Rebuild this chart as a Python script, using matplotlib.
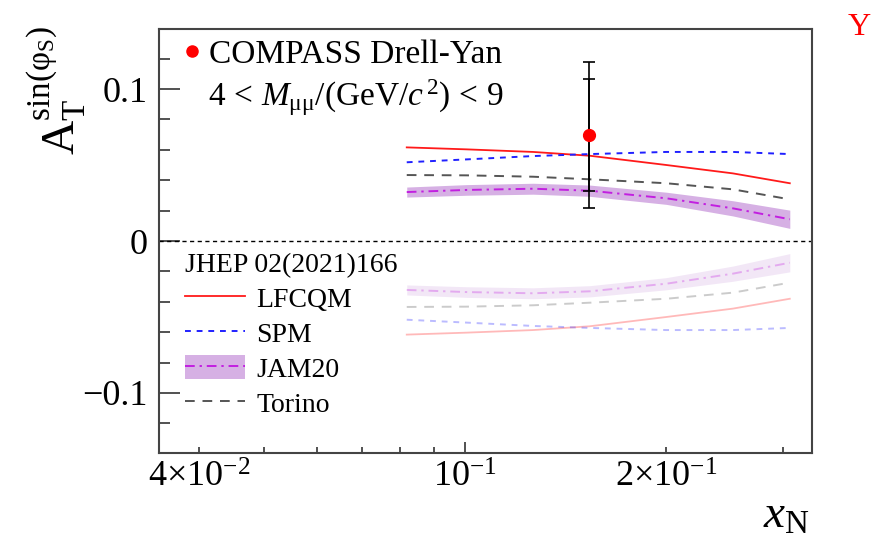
import numpy as np
import matplotlib
matplotlib.use('Agg')
import matplotlib.pyplot as plt
from matplotlib.lines import Line2D
from matplotlib.patches import Patch
from matplotlib.ticker import FixedLocator, FuncFormatter

plt.rcParams['font.family'] = ['Liberation Serif', 'DejaVu Serif']
plt.rcParams['mathtext.fontset'] = 'custom'
plt.rcParams['mathtext.rm'] = 'Liberation Serif'
plt.rcParams['mathtext.it'] = 'Liberation Serif:italic'
plt.rcParams['mathtext.bf'] = 'Liberation Serif:bold'
plt.rcParams['mathtext.default'] = 'regular'

# model curves
x_model = [0.0818, 0.1006, 0.1265, 0.1538, 0.2003, 0.2519, 0.3066]
lfcqm = [0.0616, 0.0603, 0.0586, 0.0561, 0.0500, 0.0445, 0.0380]
spm = [0.0518, 0.0537, 0.0559, 0.0572, 0.0586, 0.0586, 0.0572]
torino = [0.0434, 0.0432, 0.0423, 0.0406, 0.0380, 0.0340, 0.0274]
jam20 = [0.0322, 0.0336, 0.0344, 0.0331, 0.0281, 0.0215, 0.0143]
jam20_err = [0.0033, 0.0035, 0.0036, 0.0037, 0.0040, 0.0050, 0.0060]

# COMPASS Drell-Yan point
x_data = [0.1535]
y_data = [0.0697]
stat_err = [0.0369]
tot_err = [0.0481]

# axis ticks
xtick_major = [0.1]
xtick_minor = [0.04, 0.05, 0.06, 0.07, 0.08, 0.09, 0.2, 0.3]
xtick_text = {0.04: r'$4{\times}10^{-2}$', 0.1: r'$10^{-1}$', 0.2: r'$2{\times}10^{-1}$'}
ytick_major = [-0.1, 0.0, 0.1]
ytick_minor = [-0.12, -0.08, -0.06, -0.04, -0.02, 0.02, 0.04, 0.06, 0.08, 0.12]

red = '#ff1a1a'
blue = '#2020ff'
grey = '#555555'
purple = '#c21fe0'
band = '#d6b0e4'

fig = plt.figure(figsize=(8.72, 5.42), dpi=100)
ax = fig.add_axes([0.1823, 0.1642, 0.7489, 0.7823])

xm = np.array(x_model)
# upper half: the curves, lower half: their faded mirror image
for sign, a in [(1, 1.0), (-1, 0.3)]:
    jm = sign * np.array(jam20)
    je = np.array(jam20_err)
    ax.fill_between(xm, jm - je, jm + je, color=band, alpha=a, lw=0)
    ax.plot(xm, sign * np.array(lfcqm), color=red, lw=1.3, alpha=a)
    ax.plot(xm, sign * np.array(spm), color=blue, lw=1.4, ls=(0, (3, 3)), alpha=a)
    ax.plot(xm, sign * np.array(torino), color=grey, lw=1.4, ls=(0, (5, 4)), alpha=a)
    ax.plot(xm, jm, color=purple, lw=1.4, ls=(0, (5, 2.5, 1.2, 2.5)), alpha=a)

ax.axhline(0, color='black', lw=1.0, ls=(0, (3, 2.5)))

ax.errorbar(x_data, y_data, yerr=tot_err, fmt='none', ecolor='black', elinewidth=1.2, capsize=4, capthick=1.2)
ax.errorbar(x_data, y_data, yerr=stat_err, fmt='none', ecolor='black', elinewidth=1.2, capsize=4, capthick=1.2)
ax.plot(x_data, y_data, 'o', color='red', ms=8.5, mec='red')

ax.set_xscale('log')
ax.set_xlim(0.0348, 0.331)
ax.set_ylim(-0.1395, 0.1395)

ax.xaxis.set_major_locator(FixedLocator(xtick_major))
ax.xaxis.set_minor_locator(FixedLocator(xtick_minor))
fmt = FuncFormatter(lambda v, p: xtick_text.get(round(v, 3), ''))
ax.xaxis.set_major_formatter(fmt)
ax.xaxis.set_minor_formatter(fmt)
ax.yaxis.set_major_locator(FixedLocator(ytick_major))
ax.yaxis.set_minor_locator(FixedLocator(ytick_minor))
ax.yaxis.set_major_formatter(FuncFormatter(lambda v, p: '0' if abs(v) < 1e-9 else ('%.1f' % v).replace('-', '\u2212')))

ax.tick_params(axis='both', which='both', direction='in', colors='#333333', labelcolor='black', width=1.2)
ax.tick_params(axis='x', which='major', length=8, pad=6, labelsize=26)
ax.tick_params(axis='x', which='minor', length=4.3, pad=6, labelsize=26)
ax.tick_params(axis='y', which='major', length=15, pad=8.5, labelsize=26)
ax.tick_params(axis='y', which='minor', length=8)
for s in ax.spines.values():
    s.set_color('#444444')
    s.set_linewidth(1.5)

# COMPASS label
h_pt = Line2D([], [], marker='o', color='red', ms=8, ls='none')
leg1 = ax.legend([h_pt], ['COMPASS Drell-Yan'], loc='upper left', bbox_to_anchor=(0.038, 0.976),
                 frameon=False, fontsize=24, handlelength=0.5, handletextpad=0.26,
                 borderpad=0, borderaxespad=0)
ax.add_artist(leg1)
ax.text(0.0750, 0.819, r'$4\,<\,\mathit{M}_{μμ}/(\mathrm{GeV}/\mathit{c}^{\,2})\,<\,9$', transform=ax.transAxes,
        fontsize=24, ha='left', va='baseline')

# model legend
h_lf = Line2D([], [], color=red, lw=1.3)
h_spm = Line2D([], [], color=blue, lw=1.4, ls=(0, (3, 3)))
h_jam = (Patch(color=band, lw=0), Line2D([], [], color=purple, lw=1.4, ls=(0, (5, 2.5, 1.2, 2.5))))
h_tor = Line2D([], [], color=grey, lw=1.4, ls=(0, (5, 4)))
leg2 = ax.legend([h_lf, h_spm, h_jam, h_tor], ['LFCQM', 'SPM', 'JAM20', 'Torino'],
                 title='JHEP 02(2021)166', title_fontsize=20, fontsize=20,
                 loc='upper left', bbox_to_anchor=(0.0398, 0.472), frameon=False,
                 handlelength=2.16, handleheight=0.97, handletextpad=0.4, labelspacing=0.26,
                 borderpad=0, borderaxespad=0)
leg2._legend_box.align = 'left'

fig.text(57 / 872, 1 - 91 / 542, r'$A_{\mathrm{T}}^{\mathrm{sin(φ_{S})}}$', rotation=90,
         ha='center', va='center', fontsize=34)
fig.text(810 / 872, 1 - 528 / 542, r'$\mathit{x}_{\mathrm{N}}$', ha='right', va='baseline', fontsize=34)
fig.text(848 / 872, 1 - 35 / 542, 'Y', color='red', fontsize=23, ha='left', va='baseline')

fig.savefig('out.png', dpi=100)
